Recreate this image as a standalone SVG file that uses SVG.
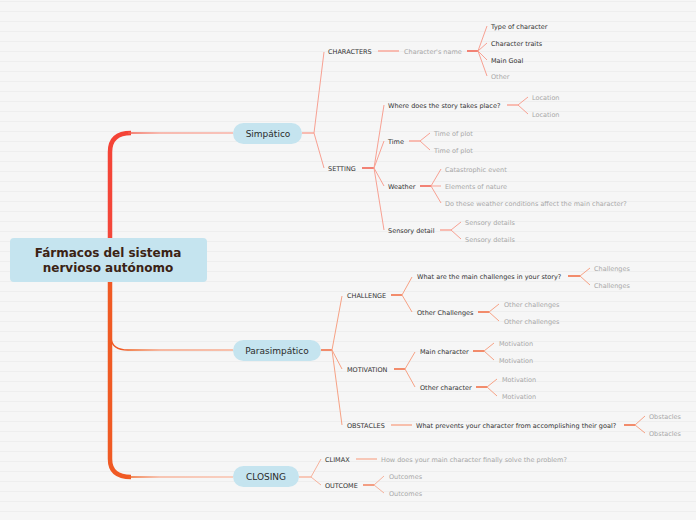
<svg xmlns="http://www.w3.org/2000/svg" width="696" height="520" viewBox="0 0 696 520">
<defs>
<pattern id="stripes" width="696" height="10" patternUnits="userSpaceOnUse" y="0">
<rect width="696" height="10" fill="#f6f6f6"/>
<rect y="1" width="696" height="1" fill="#eeeeee"/>
</pattern>
<linearGradient id="g1" gradientUnits="userSpaceOnUse" x1="128" x2="233" y1="0" y2="0"><stop offset="0" stop-color="#f35a48"/><stop offset="0.3" stop-color="#f8a698"/><stop offset="1" stop-color="#f9b2a6"/></linearGradient>
<linearGradient id="g2" gradientUnits="userSpaceOnUse" x1="128" x2="233" y1="0" y2="0"><stop offset="0" stop-color="#f0601f"/><stop offset="0.3" stop-color="#f7a283"/><stop offset="1" stop-color="#f8ae93"/></linearGradient>
<linearGradient id="g3" gradientUnits="userSpaceOnUse" x1="128" x2="233" y1="0" y2="0"><stop offset="0" stop-color="#f0601f"/><stop offset="0.3" stop-color="#f7b49c"/><stop offset="1" stop-color="#f9c2ae"/></linearGradient>
<linearGradient id="trunk" gradientUnits="userSpaceOnUse" x1="0" x2="0" y1="133" y2="477"><stop offset="0" stop-color="#f44336"/><stop offset="0.3" stop-color="#f4473a"/><stop offset="0.45" stop-color="#f05a24"/><stop offset="1" stop-color="#f05a24"/></linearGradient>
</defs>
<style>
text{font-family:"DejaVu Sans","Verdana",sans-serif;}
.t{font-size:6.5px;fill:#333;}
.g{font-size:6.5px;fill:#a8a8a8;}
.n{font-size:9px;fill:#2b2b2b;text-anchor:middle;}
.pill{fill:#c5e4ef;}
.a{stroke:#f8a193;stroke-width:1;fill:none;}
.as{stroke:#f26656;stroke-width:1.6;fill:none;}
.al{stroke:#f9ada0;stroke-width:1.6;fill:none;}
.b{stroke:#f6a285;stroke-width:1;fill:none;}
.bs{stroke:#f1724a;stroke-width:1.6;fill:none;}
.bl{stroke:#f8b29a;stroke-width:1.6;fill:none;}
.c{stroke:#f6b29c;stroke-width:1;fill:none;}
.cs{stroke:#f38866;stroke-width:1.6;fill:none;}
.cl{stroke:#f8bca8;stroke-width:1.6;fill:none;}
</style>
<rect width="696" height="520" fill="url(#stripes)"/>

<g id="connectors">
<!-- trunk -->
<path d="M131,133 Q110,133 110,152 L110,459 Q110,477 131,477" stroke="url(#trunk)" stroke-width="4.5" fill="none"/>
<path d="M111,338 Q112,350 128,350" stroke="#f05a24" stroke-width="1.5" fill="none"/>
<path d="M128,133 L233,133" stroke="url(#g1)" stroke-width="1.6" fill="none"/>
<path d="M128,350 L233,350" stroke="url(#g2)" stroke-width="1.6" fill="none"/>
<path d="M128,477 L233,477" stroke="url(#g3)" stroke-width="1.6" fill="none"/>

<!-- Simpatico -->
<path class="al" d="M302,133 L314,133"/>
<path class="a" d="M314,133 L324,52 M314,133 L324,168"/>
<path class="al" d="M378,51 L399,51"/>
<path class="as" d="M467,51 L478,51"/>
<path class="a" d="M478,51 L487,26 M478,51 L487,43 M478,51 L487,60 M478,51 L487,76"/>
<path class="as" d="M362,168 L374,168"/>
<path class="a" d="M374,168 L384,105 M374,168 L384,141 M374,168 L384,186 M374,168 L384,230"/>
<path class="al" d="M507,105 L518,105"/>
<path class="a" d="M518,105 L528,97 M518,105 L528,114"/>
<path class="al" d="M409,141 L420,141"/>
<path class="a" d="M420,141 L430,133 M420,141 L430,150"/>
<path class="as" d="M420,186 L431,186"/>
<path class="a" d="M431,186 L441,169 M431,186 L441,186 M431,186 L441,203"/>
<path class="al" d="M440,230 L451,230"/>
<path class="a" d="M451,230 L461,222 M451,230 L461,239"/>

<!-- Parasimpatico -->
<path class="bs" d="M321,350 L332,350"/>
<path class="b" d="M332,350 L342,296 M332,350 L342,369 M332,350 L342,425"/>
<path class="bs" d="M391,295 L402,295"/>
<path class="b" d="M402,295 L412,277 M402,295 L412,312"/>
<path class="bs" d="M568,276 L580,276"/>
<path class="b" d="M580,276 L590,268 M580,276 L590,285"/>
<path class="bs" d="M478,312 L489,312"/>
<path class="b" d="M489,312 L499,304 M489,312 L499,321"/>
<path class="bs" d="M394,369 L405,369"/>
<path class="b" d="M405,369 L415,352 M405,369 L415,387"/>
<path class="bs" d="M473,351 L484,351"/>
<path class="b" d="M484,351 L494,343 M484,351 L494,360"/>
<path class="bs" d="M476,387 L487,387"/>
<path class="b" d="M487,387 L497,379 M487,387 L497,396"/>
<path class="bl" d="M391,425 L412,425"/>
<path class="bs" d="M624,425 L635,425"/>
<path class="b" d="M635,425 L645,416 M635,425 L645,433"/>

<!-- Closing -->
<path class="cl" d="M299,477 L311,477"/>
<path class="c" d="M311,477 L321,459 M311,477 L321,485"/>
<path class="cl" d="M356,459 L377,459"/>
<path class="cs" d="M363,485 L374,485"/>
<path class="c" d="M374,485 L384,476 M374,485 L384,493"/>
</g>

<g id="root">
<rect x="10" y="238" width="197" height="44" rx="4" fill="#c5e4ef"/>
<text x="108" y="257" font-size="12" font-weight="bold" fill="#3b2314" text-anchor="middle">Fármacos del sistema</text>
<text x="108" y="272" font-size="12" font-weight="bold" fill="#3b2314" text-anchor="middle">nervioso autónomo</text>
</g>

<g id="simpatico">
<rect class="pill" x="233" y="123" width="69" height="21" rx="10.5"/>
<text class="n" x="268" y="136.5">Simpático</text>
</g>
<g id="parasimpatico">
<rect class="pill" x="233" y="340" width="88" height="21" rx="10.5"/>
<text class="n" x="277" y="353.5">Parasimpático</text>
</g>
<g id="closing">
<rect class="pill" x="233" y="466" width="66" height="21" rx="10.5"/>
<text class="n" x="266" y="480">CLOSING</text>
</g>

<g id="characters"><text class="t" x="328" y="53.5">CHARACTERS</text></g>
<g id="characters-name"><text class="g" x="404" y="53.5">Character's name</text></g>
<g id="type-of-character"><text class="t" x="491" y="28.5">Type of character</text></g>
<g id="character-traits"><text class="t" x="491" y="45.5">Character traits</text></g>
<g id="main-goal"><text class="t" x="491" y="62.5">Main Goal</text></g>
<g id="other"><text class="g" x="491" y="78.5">Other</text></g>

<g id="setting"><text class="t" x="328" y="170.5">SETTING</text></g>
<g id="where"><text class="t" x="388" y="107.5">Where does the story takes place?</text></g>
<g id="location1"><text class="g" x="532" y="99.5">Location</text></g>
<g id="location2"><text class="g" x="532" y="116.5">Location</text></g>
<g id="time"><text class="t" x="388" y="143.5">Time</text></g>
<g id="time-of-plot1"><text class="g" x="434" y="135.5">Time of plot</text></g>
<g id="time-of-plot2"><text class="g" x="434" y="152.5">Time of plot</text></g>
<g id="weather"><text class="t" x="388" y="188.5">Weather</text></g>
<g id="catastrophic"><text class="g" x="445" y="171.5">Catastrophic event</text></g>
<g id="elements"><text class="g" x="445" y="188.5">Elements of nature</text></g>
<g id="do-these"><text class="g" x="445" y="205.5">Do these weather conditions affect the main character?</text></g>
<g id="sensory"><text class="t" x="388" y="232.5">Sensory detail</text></g>
<g id="sensory1"><text class="g" x="465" y="224.5">Sensory details</text></g>
<g id="sensory2"><text class="g" x="465" y="241.5">Sensory details</text></g>

<g id="challenge"><text class="t" x="347" y="297.5">CHALLENGE</text></g>
<g id="main-challenges"><text class="t" x="417" y="278.5">What are the main challenges in your story?</text></g>
<g id="challenges1"><text class="g" x="594" y="270.5">Challenges</text></g>
<g id="challenges2"><text class="g" x="594" y="287.5">Challenges</text></g>
<g id="other-challenges"><text class="t" x="417" y="314.5">Other Challenges</text></g>
<g id="other-challenges1"><text class="g" x="504" y="306.5">Other challenges</text></g>
<g id="other-challenges2"><text class="g" x="504" y="323.5">Other challenges</text></g>
<g id="motivation"><text class="t" x="347" y="371.5">MOTIVATION</text></g>
<g id="main-character"><text class="t" x="420" y="353.5">Main character</text></g>
<g id="motivation1"><text class="g" x="499" y="345.5">Motivation</text></g>
<g id="motivation2"><text class="g" x="499" y="362.5">Motivation</text></g>
<g id="other-character"><text class="t" x="420" y="389.5">Other character</text></g>
<g id="motivation3"><text class="g" x="502" y="381.5">Motivation</text></g>
<g id="motivation4"><text class="g" x="502" y="398.5">Motivation</text></g>
<g id="obstacles"><text class="t" x="347" y="427.5">OBSTACLES</text></g>
<g id="prevents"><text class="t" x="416" y="427.5">What prevents your character from accomplishing their goal?</text></g>
<g id="obstacles1"><text class="g" x="649" y="418.5">Obstacles</text></g>
<g id="obstacles2"><text class="g" x="649" y="435.5">Obstacles</text></g>

<g id="climax"><text class="t" x="325" y="461.5">CLIMAX</text></g>
<g id="solve"><text class="g" x="381" y="461.5">How does your main character finally solve the problem?</text></g>
<g id="outcome"><text class="t" x="325" y="487.5">OUTCOME</text></g>
<g id="outcomes1"><text class="g" x="389" y="478.5">Outcomes</text></g>
<g id="outcomes2"><text class="g" x="389" y="495.5">Outcomes</text></g>
</svg>
